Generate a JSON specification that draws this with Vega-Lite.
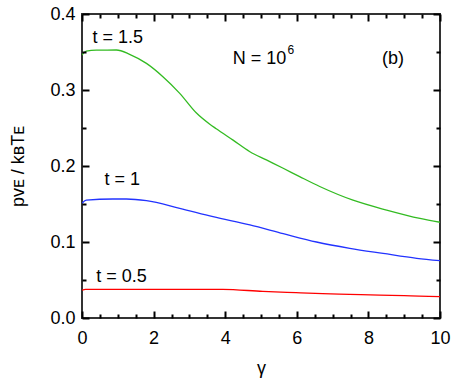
{
  "$schema": "https://vega.github.io/schema/vega-lite/v6.json",
  "width": 358,
  "height": 304,
  "autosize": {"type": "none"},
  "padding": {"left": 82, "top": 14, "right": 17, "bottom": 62},
  "background": "white",
  "config": {
    "font": "Liberation Sans",
    "view": {"stroke": "#333333", "strokeWidth": 2},
    "axis": {"labelFont": "Liberation Sans", "titleFont": "Liberation Sans", "labelFontSize": 18, "titleFontSize": 18, "labelColor": "#000", "titleColor": "#000", "titleFontWeight": "normal"}
  },
  "datasets": {
    "curves": [
      {"t": "1.5", "gamma": 0, "p": 0.346},
      {"t": "1.5", "gamma": 0.12, "p": 0.351},
      {"t": "1.5", "gamma": 0.4, "p": 0.3525},
      {"t": "1.5", "gamma": 0.96, "p": 0.3526},
      {"t": "1.5", "gamma": 1.33, "p": 0.347},
      {"t": "1.5", "gamma": 1.8, "p": 0.335},
      {"t": "1.5", "gamma": 2.26, "p": 0.3175},
      {"t": "1.5", "gamma": 2.73, "p": 0.2956},
      {"t": "1.5", "gamma": 3.19, "p": 0.27},
      {"t": "1.5", "gamma": 3.57, "p": 0.255},
      {"t": "1.5", "gamma": 3.75, "p": 0.249},
      {"t": "1.5", "gamma": 4.22, "p": 0.234},
      {"t": "1.5", "gamma": 4.69, "p": 0.2188},
      {"t": "1.5", "gamma": 5.15, "p": 0.208},
      {"t": "1.5", "gamma": 5.62, "p": 0.197},
      {"t": "1.5", "gamma": 6.08, "p": 0.186},
      {"t": "1.5", "gamma": 6.64, "p": 0.173},
      {"t": "1.5", "gamma": 7.57, "p": 0.155},
      {"t": "1.5", "gamma": 8.51, "p": 0.142},
      {"t": "1.5", "gamma": 9.44, "p": 0.131},
      {"t": "1.5", "gamma": 10, "p": 0.126},
      {"t": "1", "gamma": 0, "p": 0.151},
      {"t": "1", "gamma": 0.12, "p": 0.155},
      {"t": "1", "gamma": 0.86, "p": 0.1566},
      {"t": "1", "gamma": 1.24, "p": 0.1566},
      {"t": "1", "gamma": 1.8, "p": 0.1544},
      {"t": "1", "gamma": 2.73, "p": 0.1443},
      {"t": "1", "gamma": 3.66, "p": 0.1333},
      {"t": "1", "gamma": 4.69, "p": 0.1224},
      {"t": "1", "gamma": 5.62, "p": 0.111},
      {"t": "1", "gamma": 6.55, "p": 0.1},
      {"t": "1", "gamma": 7.48, "p": 0.0917},
      {"t": "1", "gamma": 8.41, "p": 0.085},
      {"t": "1", "gamma": 9.35, "p": 0.0785},
      {"t": "1", "gamma": 10, "p": 0.0754},
      {"t": "0.5", "gamma": 0, "p": 0.0365},
      {"t": "0.5", "gamma": 0.1, "p": 0.0377},
      {"t": "0.5", "gamma": 3.93, "p": 0.0377},
      {"t": "0.5", "gamma": 5.05, "p": 0.035},
      {"t": "0.5", "gamma": 5.98, "p": 0.0333},
      {"t": "0.5", "gamma": 6.72, "p": 0.032},
      {"t": "0.5", "gamma": 7.47, "p": 0.0311},
      {"t": "0.5", "gamma": 8.31, "p": 0.03},
      {"t": "0.5", "gamma": 9.0, "p": 0.0295},
      {"t": "0.5", "gamma": 10, "p": 0.028}
    ],
    "labels": [
      {"text": "t = 1.5", "gamma": 0.29, "p": 0.368, "size": 18},
      {"text": "t = 1", "gamma": 0.63, "p": 0.1816, "size": 18},
      {"text": "t = 0.5", "gamma": 0.4, "p": 0.0533, "size": 18},
      {"text": "N = 10", "gamma": 4.21, "p": 0.341, "size": 18},
      {"text": "6", "gamma": 5.74, "p": 0.352, "size": 12},
      {"text": "(b)", "gamma": 8.38, "p": 0.341, "size": 18}
    ]
  },
  "layer": [
    {
      "data": {"name": "curves"},
      "mark": {"type": "line", "strokeWidth": 1.3, "clip": true, "interpolate": "monotone"},
      "encoding": {
        "x": {
          "field": "gamma", "type": "quantitative",
          "scale": {"domain": [0, 10], "nice": false},
          "axis": {
            "title": "γ", "titlePadding": 12, "domain": false, "grid": false,
            "values": [0, 2, 4, 6, 8, 10],
            "ticks": true, "tickSize": -7, "tickColor": "#000000", "tickWidth": 2,
            "labelPadding": 18, "labelFlush": false, "zindex": 1
          }
        },
        "y": {
          "field": "p", "type": "quantitative",
          "scale": {"domain": [0, 0.4], "nice": false},
          "axis": {
            "title": "pvᴇ / kʙTᴇ", "domain": false, "grid": false,
            "values": [0, 0.1, 0.2, 0.3, 0.4],
            "format": ".1f",
            "ticks": true, "tickSize": -7, "tickColor": "#000000", "tickWidth": 2,
            "labelPadding": 14, "labelFlush": false, "titlePadding": 22, "zindex": 1
          }
        },
        "color": {
          "field": "t", "type": "nominal",
          "scale": {"domain": ["0.5", "1", "1.5"], "range": ["#ff0000", "#2233ff", "#33bb22"]},
          "legend": null
        }
      }
    },
    {
      "data": {"name": "labels"},
      "mark": {"type": "text", "align": "left", "baseline": "middle", "color": "#000"},
      "encoding": {
        "x": {"field": "gamma", "type": "quantitative", "axis": {"orient": "top", "title": null, "domain": false, "grid": false, "values": [0, 2, 4, 6, 8, 10], "labels": false, "ticks": true, "tickSize": -7, "tickColor": "#000000", "tickWidth": 2, "zindex": 1}},
        "y": {"field": "p", "type": "quantitative", "axis": {"orient": "right", "title": null, "domain": false, "grid": false, "values": [0, 0.1, 0.2, 0.3, 0.4], "labels": false, "ticks": true, "tickSize": -7, "tickColor": "#000000", "tickWidth": 2, "zindex": 1}},
        "text": {"field": "text"},
        "size": {"field": "size", "type": "quantitative", "scale": null}
      }
    },
    {
      "data": {"name": "curves"},
      "mark": {"type": "point", "opacity": 0},
      "encoding": {
        "x": {"field": "gamma", "type": "quantitative", "axis": {"orient": "bottom", "title": null, "domain": false, "grid": false, "values": [0.5, 1, 1.5, 2.5, 3, 3.5, 4.5, 5, 5.5, 6.5, 7, 7.5, 8.5, 9, 9.5], "labels": false, "ticks": true, "tickSize": -4, "tickColor": "#000000", "tickWidth": 2, "zindex": 1}},
        "y": {"field": "p", "type": "quantitative", "axis": {"orient": "left", "title": null, "domain": false, "grid": false, "values": [0.05, 0.15, 0.25, 0.35], "labels": false, "ticks": true, "tickSize": -4, "tickColor": "#000000", "tickWidth": 2, "zindex": 1}}
      }
    },
    {
      "data": {"name": "curves"},
      "mark": {"type": "point", "opacity": 0},
      "encoding": {
        "x": {"field": "gamma", "type": "quantitative", "axis": {"orient": "top", "title": null, "domain": false, "grid": false, "values": [0.5, 1, 1.5, 2.5, 3, 3.5, 4.5, 5, 5.5, 6.5, 7, 7.5, 8.5, 9, 9.5], "labels": false, "ticks": true, "tickSize": -4, "tickColor": "#000000", "tickWidth": 2, "zindex": 1}},
        "y": {"field": "p", "type": "quantitative", "axis": {"orient": "right", "title": null, "domain": false, "grid": false, "values": [0.05, 0.15, 0.25, 0.35], "labels": false, "ticks": true, "tickSize": -4, "tickColor": "#000000", "tickWidth": 2, "zindex": 1}}
      }
    }
  ],
  "resolve": {"axis": {"x": "independent", "y": "independent"}}
}
